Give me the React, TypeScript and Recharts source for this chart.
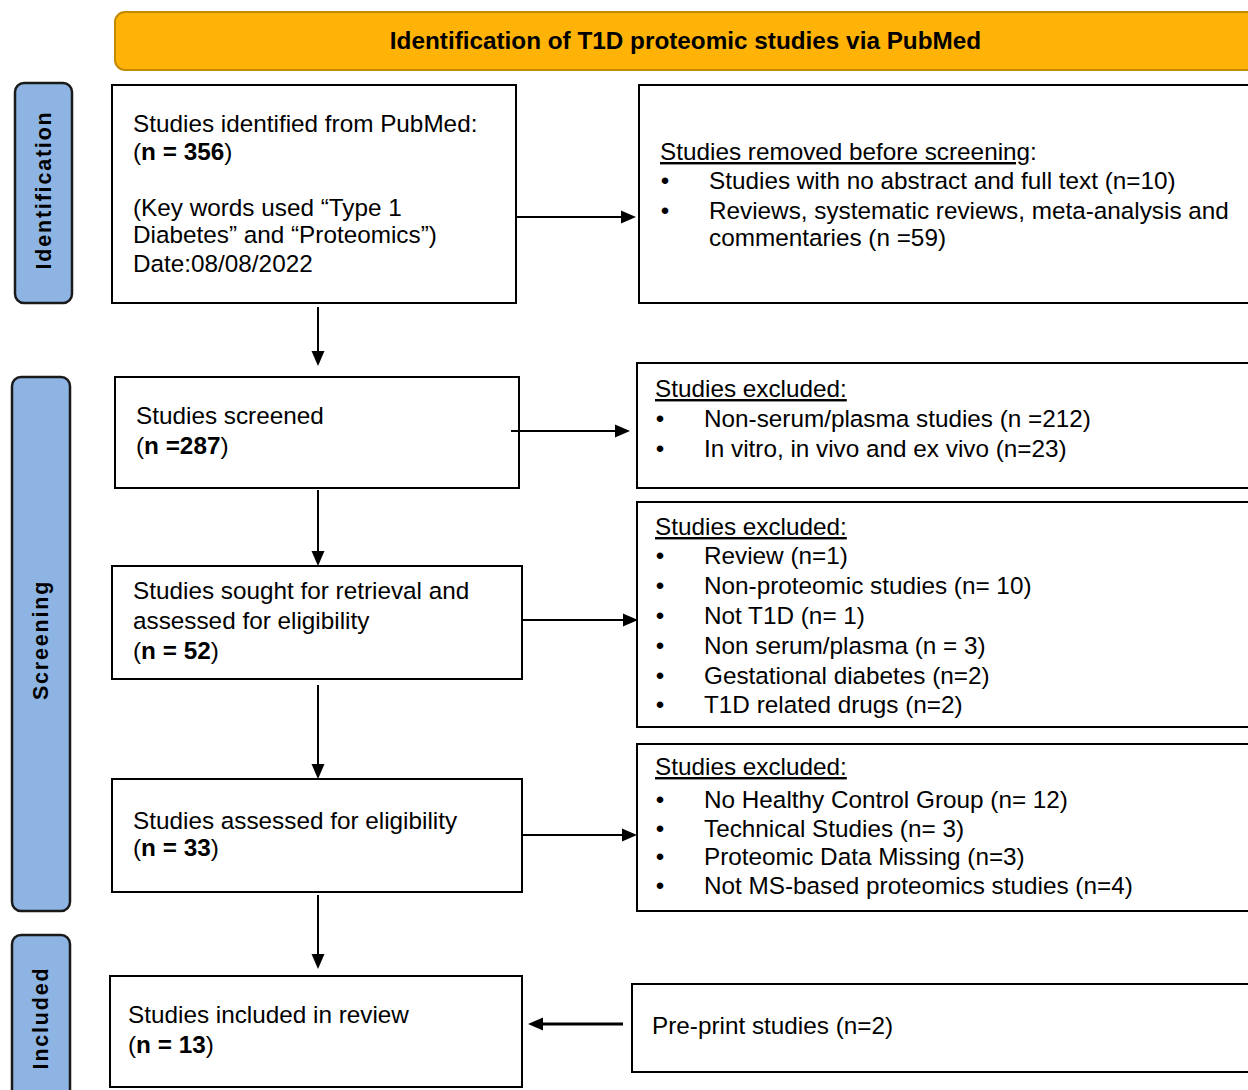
import React from 'react';
import { ComposedChart, XAxis, YAxis, Scatter, ReferenceArea, ReferenceLine } from 'recharts';

// ---- content of the flow diagram ----
const title = 'Identification of T1D proteomic studies via PubMed';
const stageLabels = ['Identification', 'Screening', 'Included'];

const flowSteps = [
  ['Studies identified from PubMed:'],
  ['Studies screened'],
  ['Studies sought for retrieval and', 'assessed for eligibility'],
  ['Studies assessed for eligibility'],
  ['Studies included in review'],
];
const flowCounts = ['n = 356', 'n =287', 'n = 52', 'n = 33', 'n = 13'];
const searchNote = ['(Key words used “Type 1', 'Diabetes” and “Proteomics”)', 'Date:08/08/2022'];

const removedTitle = 'Studies removed before screening';
const removedReasons = [
  ['Studies with no abstract and full text (n=10)'],
  ['Reviews, systematic reviews, meta-analysis and', 'commentaries (n =59)'],
];
const excludedTitle = 'Studies excluded:';
const screenExcluded = ['Non-serum/plasma studies (n =212)', 'In vitro, in vivo and ex vivo (n=23)'];
const retrievalExcluded = [
  'Review (n=1)',
  'Non-proteomic studies (n= 10)',
  'Not T1D (n= 1)',
  'Non serum/plasma (n = 3)',
  'Gestational diabetes (n=2)',
  'T1D related drugs (n=2)',
];
const eligibilityExcluded = [
  'No Healthy Control Group (n= 12)',
  'Technical Studies (n= 3)',
  'Proteomic Data Missing (n=3)',
  'Not MS-based proteomics studies (n=4)',
];
const addedStudies = 'Pre-print studies (n=2)';

// ---- layout (chart units = pixels) ----
const W = 1248;
const H = 1090;
const FONT = '"Liberation Sans", Arial, Helvetica, sans-serif';
const BODY_SIZE = 24.3;

const headerBox = { x1: 115, x2: 1262, y1: 12, y2: 70 };
const stageBoxes = [
  { x1: 15, x2: 72, y1: 83, y2: 303, cy: 190 },
  { x1: 12, x2: 70, y1: 377, y2: 911, cy: 640 },
  { x1: 12, x2: 70, y1: 935, y2: 1100, cy: 1018 },
];
const leftBoxes = [
  { x1: 112, x2: 516, y1: 85, y2: 303, tx: 133, lines: [132, 160] },
  { x1: 115, x2: 519, y1: 377, y2: 488, tx: 136, lines: [424, 454] },
  { x1: 112, x2: 522, y1: 566, y2: 679, tx: 133, lines: [599, 629, 659] },
  { x1: 112, x2: 522, y1: 779, y2: 892, tx: 133, lines: [829, 856] },
  { x1: 110, x2: 522, y1: 976, y2: 1087, tx: 128, lines: [1023, 1053] },
];
const noteLines = [216, 243, 272];
const rightBoxes = [
  { x1: 639, x2: 1262, y1: 85, y2: 303, tx: 660, bx: 665, ix: 709, lines: [160, 189, 219, 246] },
  { x1: 637, x2: 1262, y1: 363, y2: 488, tx: 655, bx: 660, ix: 704, lines: [397, 427, 457] },
  { x1: 637, x2: 1262, y1: 502, y2: 727, tx: 655, bx: 660, ix: 704, lines: [535, 564, 594, 624, 654, 684, 713] },
  { x1: 637, x2: 1262, y1: 744, y2: 911, tx: 655, bx: 660, ix: 704, lines: [775, 808, 837, 865, 894] },
  { x1: 632, x2: 1262, y1: 984, y2: 1072, tx: 652, bx: 0, ix: 0, lines: [1034] },
];
const arrows = [
  { from: [516, 217], to: [636, 217], w: 2 },
  { from: [318, 307], to: [318, 366], w: 2 },
  { from: [511, 431], to: [630, 431], w: 2 },
  { from: [318, 490], to: [318, 566], w: 2 },
  { from: [523, 620], to: [638, 620], w: 2 },
  { from: [318, 685], to: [318, 779], w: 2 },
  { from: [522, 835], to: [637, 835], w: 2 },
  { from: [318, 895], to: [318, 969], w: 2 },
  { from: [623, 1024], to: [528, 1024], w: 3 },
];

type Seg = { t: string; bold?: boolean; underline?: boolean };
type TextPt = {
  x: number;
  y: number;
  segs: Seg[];
  anchor?: 'start' | 'middle';
  size?: number;
  weight?: string;
  spacing?: number;
  rotate?: boolean;
};

const plain = (t: string): Seg[] => [{ t }];
const countSegs = (n: string): Seg[] => [{ t: '(' }, { t: n, bold: true }, { t: ')' }];

const buildTexts = (): TextPt[] => {
  const pts: TextPt[] = [];
  pts.push({
    x: (390 + 981) / 2,
    y: 49,
    segs: plain(title),
    anchor: 'middle',
    weight: 'bold',
  });
  stageLabels.forEach((s, i) => {
    const b = stageBoxes[i];
    pts.push({
      x: (b.x1 + b.x2) / 2,
      y: b.cy,
      segs: plain(s),
      anchor: 'middle',
      weight: 'bold',
      size: 21.5,
      spacing: 1.8,
      rotate: true,
    });
  });
  flowSteps.forEach((step, i) => {
    const b = leftBoxes[i];
    step.forEach((line, j) => pts.push({ x: b.tx, y: b.lines[j], segs: plain(line) }));
    pts.push({ x: b.tx, y: b.lines[step.length], segs: countSegs(flowCounts[i]) });
  });
  searchNote.forEach((line, j) => pts.push({ x: leftBoxes[0].tx, y: noteLines[j], segs: plain(line) }));

  // removed before screening
  const a = rightBoxes[0];
  pts.push({ x: a.tx, y: a.lines[0], segs: [{ t: removedTitle, underline: true }, { t: ':' }] });
  let k = 1;
  removedReasons.forEach((r) => {
    pts.push({ x: a.bx, y: a.lines[k], segs: plain('•'), anchor: 'middle' });
    r.forEach((line) => {
      pts.push({ x: a.ix, y: a.lines[k], segs: plain(line) });
      k += 1;
    });
  });

  [screenExcluded, retrievalExcluded, eligibilityExcluded].forEach((list, i) => {
    const b = rightBoxes[i + 1];
    pts.push({ x: b.tx, y: b.lines[0], segs: [{ t: excludedTitle, underline: true }] });
    list.forEach((item, j) => {
      pts.push({ x: b.bx, y: b.lines[j + 1], segs: plain('•'), anchor: 'middle' });
      pts.push({ x: b.ix, y: b.lines[j + 1], segs: plain(item) });
    });
  });

  const e = rightBoxes[4];
  pts.push({ x: e.tx, y: e.lines[0], segs: plain(addedStudies) });
  return pts;
};

const textPoints = buildTexts();

const renderText = (props: any) => {
  const { cx, cy, payload } = props;
  const p = payload as TextPt;
  return (
    <text
      x={cx}
      y={cy}
      textAnchor={p.anchor ?? 'start'}
      dominantBaseline={p.rotate ? 'central' : undefined}
      transform={p.rotate ? `rotate(-90 ${cx} ${cy})` : undefined}
      fontFamily={FONT}
      fontSize={p.size ?? BODY_SIZE}
      fontWeight={p.weight ?? 'normal'}
      letterSpacing={p.spacing}
      fill="#000"
    >
      {p.segs.map((s, i) => (
        <tspan
          key={i}
          fontWeight={s.bold ? 'bold' : undefined}
          style={s.underline ? { textDecoration: 'underline' } : undefined}
        >
          {s.t}
        </tspan>
      ))}
    </text>
  );
};

const boxShape = (fill: string, stroke: string, rx: number, sw = 2) => (p: any) => (
  <rect x={p.x} y={p.y} width={p.width} height={p.height} rx={rx} ry={rx} fill={fill} stroke={stroke} strokeWidth={sw} />
);

const arrowShape = (sw: number) => (p: any) => {
  const { x1, y1, x2, y2 } = p;
  const dx = x2 - x1;
  const dy = y2 - y1;
  const len = Math.hypot(dx, dy) || 1;
  const ux = dx / len;
  const uy = dy / len;
  const hl = 15;
  const hw = 6.5;
  const bx = x2 - ux * hl;
  const by = y2 - uy * hl;
  const pts = `${x2},${y2} ${bx - uy * hw},${by + ux * hw} ${bx + uy * hw},${by - ux * hw}`;
  return (
    <g>
      <line x1={x1} y1={y1} x2={bx + ux} y2={by + uy} stroke="#000" strokeWidth={sw} />
      <polygon points={pts} fill="#000" />
    </g>
  );
};

const App: React.FC = () => {
  return (
    <div style={{ position: 'absolute', left: 0, top: 0, width: W, height: H, background: '#fff', overflow: 'hidden' }}>
      <ComposedChart width={W} height={H} data={textPoints} margin={{ top: 0, right: 0, bottom: 0, left: 0 }}>
        <XAxis type="number" dataKey="x" domain={[0, W]} hide allowDataOverflow />
        <YAxis type="number" dataKey="y" domain={[0, H]} reversed hide allowDataOverflow />

        <ReferenceArea
          {...headerBox}
          ifOverflow="visible"
          shape={boxShape('#FFB307', '#C48A00', 10)}
        />
        {stageBoxes.map((b, i) => (
          <ReferenceArea
            key={`stage-${i}`}
            x1={b.x1}
            x2={b.x2}
            y1={b.y1}
            y2={b.y2}
            ifOverflow="visible"
            shape={boxShape('#8DB4E2', '#1A1A1A', 9, 2.5)}
          />
        ))}
        {[...leftBoxes, ...rightBoxes].map((b, i) => (
          <ReferenceArea
            key={`box-${i}`}
            x1={b.x1}
            x2={b.x2}
            y1={b.y1}
            y2={b.y2}
            ifOverflow="visible"
            shape={boxShape('#fff', '#000', 0)}
          />
        ))}
        {arrows.map((a, i) => (
          <ReferenceLine
            key={`arrow-${i}`}
            segment={[
              { x: a.from[0], y: a.from[1] },
              { x: a.to[0], y: a.to[1] },
            ]}
            ifOverflow="visible"
            shape={arrowShape(a.w)}
          />
        ))}

        <Scatter data={textPoints} dataKey="y" shape={renderText} isAnimationActive={false} />
      </ComposedChart>
    </div>
  );
};

export default App;
